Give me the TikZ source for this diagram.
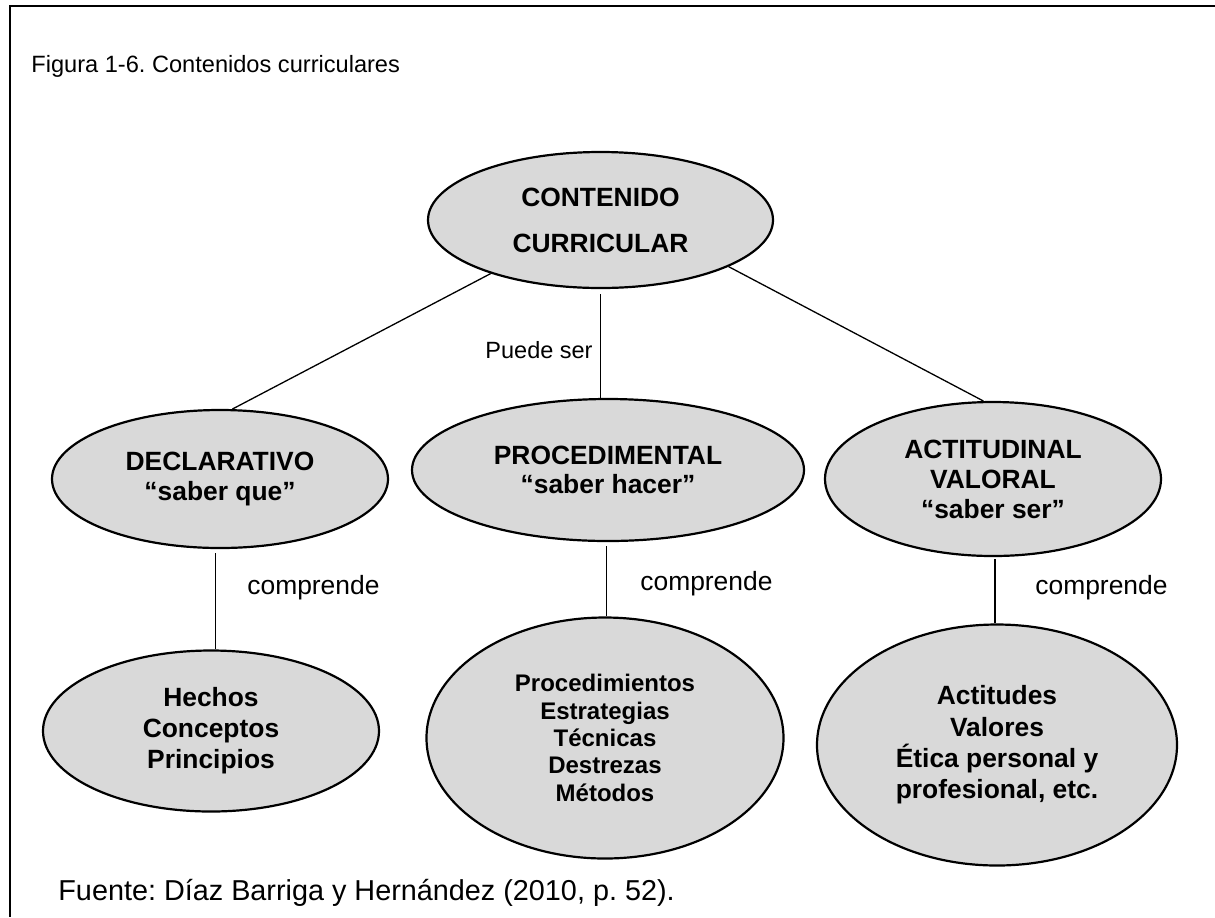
\documentclass[tikz,border=0pt]{standalone}
\usepackage{fontspec}
\setmainfont{Liberation Sans}
\usetikzlibrary{shapes.geometric,calc}
\frenchspacing
\begin{document}
\begin{tikzpicture}[x=0.5pt,y=-0.5pt,
  oval/.style={ellipse,draw=black,line width=1.1pt,fill=black!15,inner sep=0pt,align=center},
  conn/.style={line width=0.65pt},
  lbl/.style={font=\fontsize{13.2}{15}\selectfont,inner sep=0pt,anchor=base west}]
\useasboundingbox (0,0) rectangle (1215,917);
\draw[line width=1pt] (1215,6) -- (10,6) -- (10,917);

\node[oval,minimum width=172.5pt,minimum height=68pt,font=\fontsize{13.2}{23}\selectfont\bfseries] (A) at (600.5,220) {CONTENIDO\\CURRICULAR};
\node[oval,minimum width=168pt,minimum height=69pt,font=\fontsize{13.2}{15}\selectfont\bfseries] (D) at (220,479) {DECLARATIVO\\“saber que”};
\node[oval,minimum width=196pt,minimum height=71pt,font=\fontsize{13.2}{14.5}\selectfont\bfseries] (P) at (608,470) {PROCEDIMENTAL\\“saber hacer”};
\node[oval,minimum width=168pt,minimum height=77pt,font=\fontsize{13.2}{15}\selectfont\bfseries] (T) at (993,479) {ACTITUDINAL\\VALORAL\\“saber ser”};
\node[oval,minimum width=168pt,minimum height=80.5pt,font=\fontsize{13.2}{15.5}\selectfont\bfseries] (H) at (211,731) {Hechos\\Conceptos\\Principios};
\node[oval,minimum width=178.5pt,minimum height=120.5pt,font=\fontsize{12}{13.7}\selectfont\bfseries] (PL) at (605,738) {Procedimientos\\Estrategias\\Técnicas\\Destrezas\\Métodos};
\node[oval,minimum width=180pt,minimum height=120.5pt,font=\fontsize{13.2}{15.7}\selectfont\bfseries] (AL) at (997,745) {Actitudes\\Valores\\Ética personal y\\profesional, etc.};

\draw[conn] (A.206) -- (D.80);
\draw[conn] (A.-20) -- (T.97);
\draw[conn,shorten <=2.5pt] (A.south) -- (A.south |- P.north);
\coordinate (m1) at ($(D.south)!0.5!(H.north)$);
\draw[conn,shorten <=2pt] (D.south -| m1) -- (H.north -| m1);
\coordinate (m2) at ($(P.south)!0.5!(PL.north)$);
\draw[conn,shorten <=2pt] (P.south -| m2) -- (PL.north -| m2);
\coordinate (m3) at ($(T.south)!0.5!(AL.north)$);
\draw[conn,shorten <=1pt] (T.south -| m3) -- (AL.north -| m3);

\node[lbl,font=\fontsize{11.75}{14}\selectfont,anchor=base east] (ps) at (593,358) {Puede ser};
\node[lbl] (c1) at (247,594) {comprende};
\node[lbl] (c2) at (640,590) {comprende};
\node[lbl] (c3) at (1035,594) {comprende};
\node[lbl,font=\fontsize{11.8}{14}\selectfont] (title) at (31,72) {Figura 1-6. Contenidos curriculares};
\node[lbl,font=\fontsize{14.4}{17}\selectfont] (src) at (58,900) {Fuente: Díaz Barriga y Hernández (2010, p. 52).};
\end{tikzpicture}
\end{document}
